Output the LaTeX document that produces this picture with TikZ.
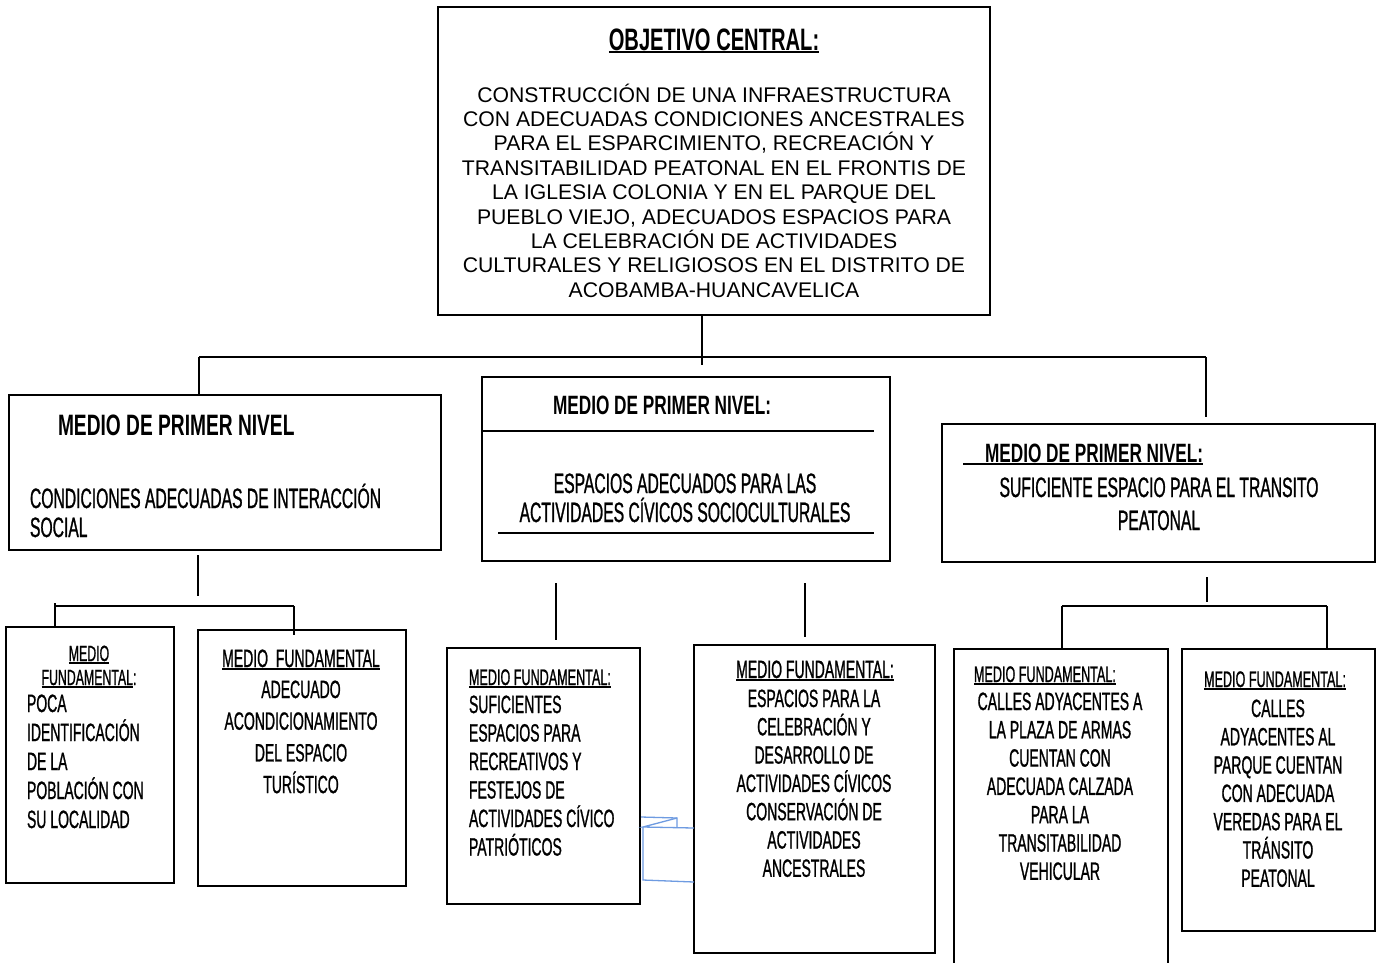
\documentclass[tikz,border=0pt]{standalone}
\usepackage{fontspec}
\setmainfont{Liberation Sans}
\newfontfamily\agency[FakeStretch=0.56,FakeBold=0.9]{Liberation Sans}
\newfontfamily\agencyb[FakeStretch=0.65]{Liberation Sans}
\usetikzlibrary{calc}
\definecolor{bl}{RGB}{110,155,225}
\newsavebox\ulbox
\newcommand\ulx[1]{\sbox\ulbox{#1}\rlap{\rule[-3pt]{\wd\ulbox}{2pt}}\usebox\ulbox}
\newcommand\fr[1]{\rule{0pt}{#1pt}}
\begin{document}
\begin{tikzpicture}[x=1pt,y=-1pt,
  box/.style={draw, line width=1.7pt, inner sep=0, outer sep=0, anchor=north west},
  ln/.style={line width=1.7pt},
  txt/.style={inner sep=0, outer sep=0, anchor=north},
  txtl/.style={inner sep=0, outer sep=0, anchor=north west, align=left},
  blue line/.style={draw=bl, line width=1.3pt}]
\useasboundingbox (0,0) rectangle (1384,962);
\fill[white] (0,0) rectangle (1384,962);

% boxes
\node[box, minimum width=552pt, minimum height=308pt] (obj) at (438,7) {};
\node[box, minimum width=432pt, minimum height=155pt] (m1) at (9,395) {};
\node[box, minimum width=408pt, minimum height=184pt] (m2) at (482,377) {};
\node[box, minimum width=433pt, minimum height=138pt] (m3) at (942,424) {};
\node[box, minimum width=168pt, minimum height=256pt] (f1) at (6,627) {};
\node[box, minimum width=208pt, minimum height=256pt] (f2) at (198,630) {};
\node[box, minimum width=193pt, minimum height=256pt] (f3) at (447,648) {};
\node[box, minimum width=241pt, minimum height=308pt] (f4) at (694,645) {};
\node[box, minimum width=214pt, minimum height=330pt] (f5) at (954,649) {};
\node[box, minimum width=193pt, minimum height=282pt] (f6) at (1182,649) {};

% central objective
\node[txt, font=\agencyb\bfseries\fontsize{31}{34}\selectfont] (tObj) at (714,19) {\fr{31}\ulx{OBJETIVO CENTRAL:}};
\node[txt, align=center, font=\fontsize{21.2}{24.4}\selectfont] (bObj) at (714,81) {\fr{21}CONSTRUCCIÓN DE UNA INFRAESTRUCTURA\\CON ADECUADAS CONDICIONES ANCESTRALES\\PARA EL ESPARCIMIENTO, RECREACIÓN Y\\TRANSITABILIDAD PEATONAL EN EL FRONTIS DE\\LA IGLESIA COLONIA Y EN EL PARQUE DEL\\PUEBLO VIEJO, ADECUADOS ESPACIOS PARA\\LA CELEBRACIÓN DE ACTIVIDADES\\CULTURALES Y RELIGIOSOS EN EL DISTRITO DE\\ACOBAMBA-HUANCAVELICA};

% first level means
\node[txtl, font=\agencyb\bfseries\fontsize{29.5}{32}\selectfont] (t1) at (58,405.5) {\fr{29.5}MEDIO DE PRIMER NIVEL};
\node[txtl, font=\agency\fontsize{28}{29}\selectfont] (b1) at (30,480) {\fr{28}CONDICIONES ADECUADAS DE INTERACCIÓN\\SOCIAL};

\node[txtl, font=\agencyb\bfseries\fontsize{26.5}{30}\selectfont] (t2) at (553,387.5) {\fr{26.5}MEDIO DE PRIMER NIVEL:};
\draw[ln] (483,431) -- (874,431);
\draw[ln] (498,533) -- (874,533);
\node[txt, align=center, font=\agency\fontsize{28}{29}\selectfont] (b2) at (685,465) {\fr{28}ESPACIOS ADECUADOS PARA LAS\\ACTIVIDADES CÍVICOS SOCIOCULTURALES};

\node[txtl, font=\agencyb\bfseries\fontsize{26.5}{30}\selectfont] (t3) at (963,435.5) {\fr{26.5}\ulx{\hspace{22pt}MEDIO DE PRIMER NIVEL:}};
\node[txt, align=center, font=\agency\fontsize{28}{33}\selectfont] (b3) at (1159,469) {\fr{28}SUFICIENTE ESPACIO PARA EL TRANSITO\\PEATONAL};

% fundamental means
\node[txt, align=center, font=\agency\fontsize{22}{24}\selectfont] (h1) at (89,639) {\fr{22}\ulx{MEDIO}\\\ulx{FUNDAMENTAL}:};
\node[txtl, font=\agency\fontsize{25}{29}\selectfont] (c1) at (27,687) {\fr{25}POCA\\IDENTIFICACIÓN\\DE LA\\POBLACIÓN CON\\SU LOCALIDAD};

\node[txt, font=\agency\fontsize{25}{28}\selectfont] (h2) at (301,642) {\fr{25}\ulx{MEDIO\ \ FUNDAMENTAL}};
\node[txt, align=center, font=\agency\fontsize{25}{31.7}\selectfont] (c2) at (301,673) {\fr{25}ADECUADO\\ACONDICIONAMIENTO\\DEL ESPACIO\\TURÍSTICO};

\node[txtl, font=\agency\fontsize{22.5}{25}\selectfont] (h3) at (469,662.5) {\fr{22.5}\ulx{MEDIO FUNDAMENTAL:}};
\node[txtl, font=\agency\fontsize{25}{28.5}\selectfont] (c3) at (469,688) {\fr{25}SUFICIENTES\\ESPACIOS PARA\\RECREATIVOS Y\\FESTEJOS DE\\ACTIVIDADES CÍVICO\\PATRIÓTICOS};

\node[txt, font=\agency\fontsize{25}{28}\selectfont] (h4) at (815,653) {\fr{25}\ulx{MEDIO FUNDAMENTAL:}};
\node[txt, align=center, font=\agency\fontsize{25}{28.3}\selectfont] (c4) at (814,682) {\fr{25}ESPACIOS PARA LA\\CELEBRACIÓN Y\\DESARROLLO DE\\ACTIVIDADES CÍVICOS\\CONSERVACIÓN DE\\ACTIVIDADES\\ANCESTRALES};

\node[txtl, font=\agency\fontsize{22.5}{25}\selectfont] (h5) at (974,659.5) {\fr{22.5}\ulx{MEDIO FUNDAMENTAL:}};
\node[txt, align=center, font=\agency\fontsize{25}{28.3}\selectfont] (c5) at (1060,685) {\fr{25}CALLES ADYACENTES A\\LA PLAZA DE ARMAS\\CUENTAN CON\\ADECUADA CALZADA\\PARA LA\\TRANSITABILIDAD\\VEHICULAR};

\node[txt, font=\agency\fontsize{22.5}{25}\selectfont] (h6) at (1275,664.5) {\fr{22.5}\ulx{MEDIO FUNDAMENTAL:}};
\node[txt, align=center, font=\agency\fontsize{25}{28.3}\selectfont] (c6) at (1278,692) {\fr{25}CALLES\\ADYACENTES AL\\PARQUE CUENTAN\\CON ADECUADA\\VEREDAS PARA EL\\TRÁNSITO\\PEATONAL};

% connectors (top level)
\coordinate (c0) at (702,365);
\coordinate (jl) at (199,357);
\coordinate (jr) at (1206,357);
\coordinate (r0) at (1206,417);
\draw[ln] (obj.south -| c0) -- (c0);
\draw[ln] (jl) -- (jr);
\draw[ln] (jl) -- (jl |- m1.north);
\draw[ln] (jr) -- (r0);

% connectors (left)
\coordinate (la) at (198,555);
\coordinate (lb) at (198,596);
\coordinate (lh1) at (55,606);
\coordinate (lh2) at (294,606);
\coordinate (lt) at (55,603);
\coordinate (le) at (294,635);
\draw[ln] (la) -- (lb);
\draw[ln] (lh1) -- (lh2);
\draw[ln] (lt) -- (lt |- f1.north);
\draw[ln] (lh2) -- (le);

% connectors (middle)
\coordinate (ma) at (556,583);
\coordinate (mb) at (556,640);
\coordinate (mc) at (805,583);
\coordinate (md) at (805,637);
\draw[ln] (ma) -- (mb);
\draw[ln] (mc) -- (md);

% connectors (right)
\coordinate (ra) at (1207,577);
\coordinate (rb) at (1207,602);
\coordinate (rh1) at (1062,606);
\coordinate (rh2) at (1327,606);
\draw[ln] (ra) -- (rb);
\draw[ln] (rh1) -- (rh2);
\draw[ln] (rh1) -- (rh1 |- f5.north);
\draw[ln] (rh2) -- (rh2 |- f6.north);

% stray blue lines
\draw[blue line] (641,817) -- (677,818) -- (677,827);
\draw[blue line] (677,818) -- (643,827) -- (694,828);
\draw[blue line] (643,827) -- (643,880) -- (694,882);
\end{tikzpicture}
\end{document}
